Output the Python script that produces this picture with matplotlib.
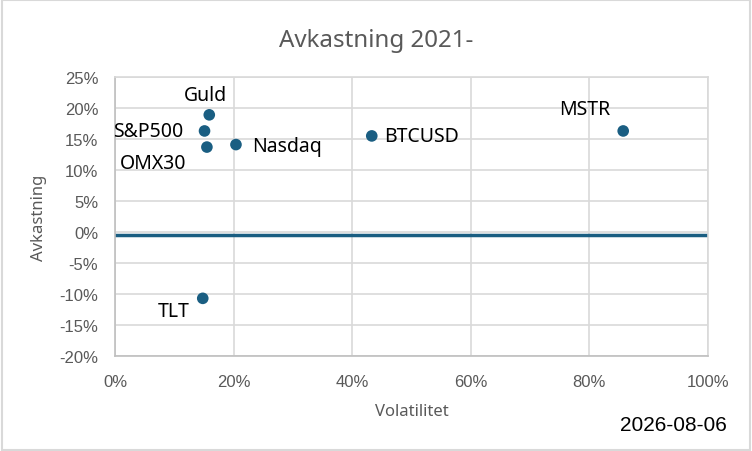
import matplotlib
matplotlib.use("Agg")
import matplotlib.pyplot as plt
from matplotlib.ticker import FuncFormatter, MultipleLocator
from matplotlib.patches import Rectangle

names = ["Guld", "S&P500", "OMX30", "Nasdaq", "BTCUSD", "MSTR", "TLT"]
volatility = [15.9, 15.1, 15.5, 20.4, 43.3, 85.7, 14.8]
returns = [18.9, 16.3, 13.7, 14.1, 15.5, 16.3, -10.7]

# label placement (pixel offsets, alignment)
label_style = [
    ((-4, 20), "center", "center"),
    ((-21, 0), "right", "center"),
    ((-21, -16), "right", "center"),
    ((16, -1), "left", "center"),
    ((12, 0), "left", "center"),
    ((-13, 22), "right", "center"),
    ((-13, -13), "right", "center"),
]

ref_x = [0, 100]
ref_y = [-0.5, -0.5]

date_text = "2026-08-06"

color = "#1a5e82"
grid_c = "#d9d9d9"
gray_txt = "#595959"

fig = plt.figure(figsize=(7.52, 4.52), dpi=100)
ax = fig.add_axes([0.1529, 0.2102, 0.7886, 0.6172])

ax.plot(ref_x, ref_y, color=color, lw=2.5, zorder=2)
ax.scatter(volatility, returns, s=70, color=color, zorder=3, edgecolors="none")

lab_font = dict(family=["Noto Sans", "DejaVu Sans"], fontsize=14, color="black")
for n, x, y, (off, ha, va) in zip(names, volatility, returns, label_style):
    ax.annotate(n, (x, y), xytext=off, textcoords="offset pixels",
                ha=ha, va=va, **lab_font)

ax.set_xlim(0, 100)
ax.set_ylim(-20, 25)
ax.xaxis.set_major_locator(MultipleLocator(20))
ax.yaxis.set_major_locator(MultipleLocator(5))
ax.xaxis.set_major_formatter(FuncFormatter(lambda v, p: f"{v:.0f}%"))
ax.yaxis.set_major_formatter(FuncFormatter(lambda v, p: f"{v:.0f}%"))
ax.grid(True, color=grid_c, lw=1.2, zorder=0)
ax.set_axisbelow(True)
for s in ["top", "right"]:
    ax.spines[s].set_color(grid_c)
    ax.spines[s].set_linewidth(1.2)
for s in ["left", "bottom"]:
    ax.spines[s].set_color("#bfbfbf")
    ax.spines[s].set_linewidth(1.2)
ax.tick_params(length=0, labelsize=12, labelcolor=gray_txt)
ax.tick_params(axis="y", pad=12)
ax.tick_params(axis="x", pad=13)
for t in ax.get_xticklabels() + ax.get_yticklabels():
    t.set_family(["Liberation Sans", "DejaVu Sans"])

ax.set_xlabel("Volatilitet", fontsize=12, color=gray_txt,
              family=["Noto Sans", "DejaVu Sans"], labelpad=10)
ax.set_ylabel("Avkastning", fontsize=12, color=gray_txt,
              family=["Noto Sans", "DejaVu Sans"], labelpad=9)
fig.text(0.5, 0.91, "Avkastning 2021-", ha="center", va="center",
         fontsize=17.4, color=gray_txt, family=["Noto Sans", "DejaVu Sans"])
fig.text(0.966, 0.058, date_text, ha="right", va="center", fontsize=15,
         color="black", family=["Liberation Sans", "DejaVu Sans"])

fig.patches.append(Rectangle((0.002, 0.003), 0.995, 0.994, transform=fig.transFigure,
                             fill=False, edgecolor="#d9d9d9", lw=1.5))

fig.savefig("out.png", dpi=100)
